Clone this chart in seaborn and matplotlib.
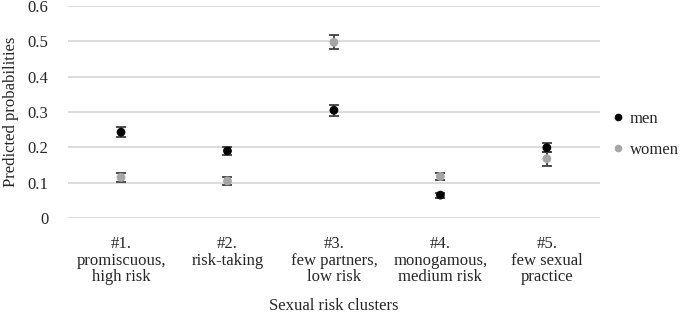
import numpy as np
import pandas as pd
import matplotlib
matplotlib.use("Agg")
import matplotlib.pyplot as plt
import seaborn as sns

clusters = ["#1.\npromiscuous,\nhigh risk", "#2.\nrisk-taking\n", "#3.\nfew partners,\nlow risk",
            "#4.\nmonogamous,\nmedium risk", "#5.\nfew sexual\npractice"]
men = [0.243, 0.190, 0.305, 0.065, 0.199]
men_err = [0.015, 0.012, 0.015, 0.007, 0.013]
women = [0.115, 0.105, 0.497, 0.118, 0.168]
women_err = [0.012, 0.010, 0.020, 0.010, 0.020]

sns.set_style("white")
plt.rcParams["font.family"] = ["Liberation Serif", "DejaVu Serif"]
fs = 12

pos = np.arange(len(clusters)) + 0.5
df = pd.DataFrame({
    "x": np.concatenate([pos, pos]),
    "p": men + women,
    "err": men_err + women_err,
    "sex": ["men"] * 5 + ["women"] * 5,
})
colors = {"men": "#000000", "women": "#a6a6a6"}

fig, ax = plt.subplots(figsize=(6.85, 3.27), dpi=100)
for s, g in df.groupby("sex"):
    ax.errorbar(g["x"], g["p"], yerr=g["err"], fmt="none", ecolor="#404040",
                elinewidth=1.3, capsize=3.3, capthick=1.3, zorder=2)
sns.scatterplot(data=df, x="x", y="p", hue="sex", palette=colors, s=40,
                edgecolor="none", ax=ax, zorder=3, legend=False)

ax.set_xlim(0, 5)
ax.set_ylim(0, 0.6)
ax.set_yticks(np.arange(0, 0.61, 0.1))
ax.set_yticklabels(["0", "0.1", "0.2", "0.3", "0.4", "0.5", "0.6"])
ax.set_xticks(pos)
ax.set_xticklabels(clusters, va="top", linespacing=1.05)
ax.yaxis.grid(True, color="#d9d9d9", linewidth=1.3)
ax.set_axisbelow(True)
for sp in ax.spines.values():
    sp.set_visible(False)
ax.tick_params(axis="x", length=0, labelsize=fs, pad=13)
ax.tick_params(axis="y", length=0, labelsize=fs, pad=14)
ax.set_xlabel("Sexual risk clusters", fontsize=fs, labelpad=9)
ax.set_ylabel("Predicted probabilities", fontsize=fs, labelpad=6)

handles = [plt.Line2D([], [], marker="o", linestyle="none", color=colors[k],
                      markersize=4.5) for k in ["men", "women"]]
fig.legend(handles, ["men", "women"], loc="center left", bbox_to_anchor=(0.895, 0.59),
           frameon=False, fontsize=fs, handlelength=0.6, handletextpad=0.4,
           labelspacing=0.9, borderpad=0, borderaxespad=0)

fig.subplots_adjust(left=0.099, right=0.876, top=0.982, bottom=0.333)
fig.savefig("out.png", dpi=100)
